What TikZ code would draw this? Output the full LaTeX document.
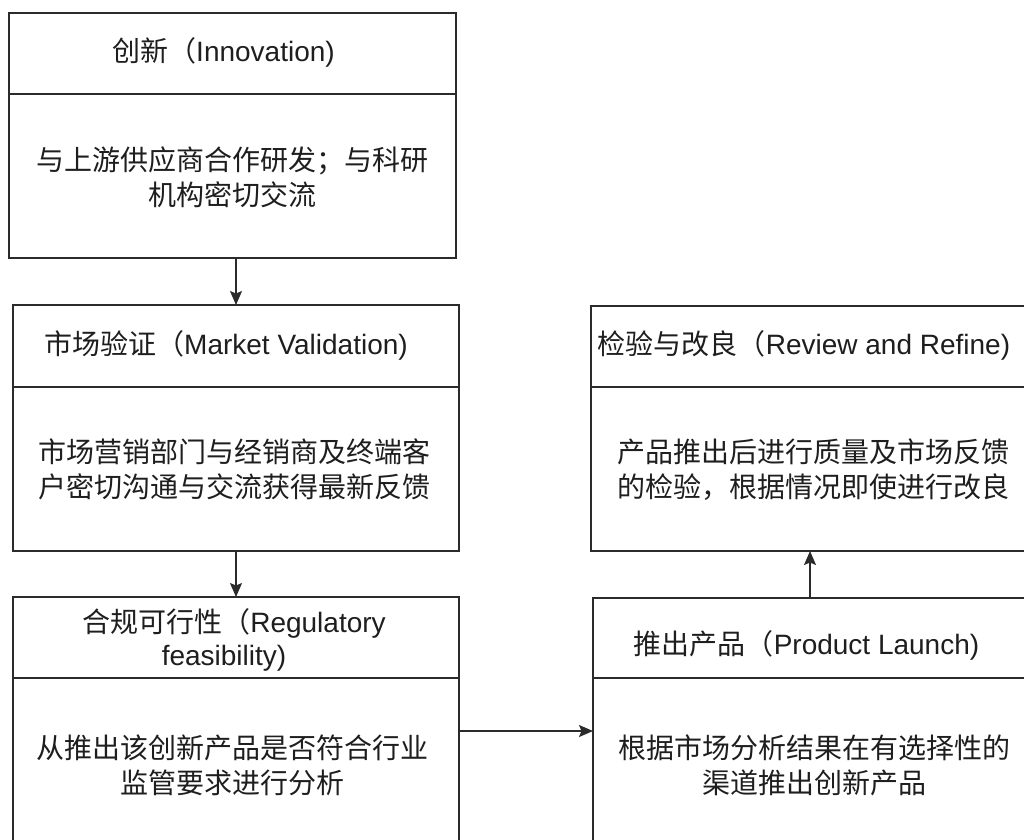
\documentclass[tikz,border=0pt]{standalone}
\usepackage{fontspec}
\setmainfont{Liberation Sans}
\newfontfamily\cjkf{Noto Sans CJK SC}
\usetikzlibrary{arrows.meta}
\definecolor{ln}{HTML}{2B2B2B}
\definecolor{tx}{HTML}{1E1E1E}
\begin{document}
\begin{tikzpicture}[x=1pt,y=-1pt,
  box/.style={draw=ln,line width=1.3pt,rectangle,inner sep=0,outer sep=0,anchor=north west,minimum width=446pt},
  divider/.style={draw=ln,line width=1.3pt},
  ttl/.style={inner sep=0,text=tx,align=center,font=\fontsize{28}{33}\selectfont},
  bdy/.style={inner sep=0,text=tx,align=center,font=\cjkf\fontsize{28}{35}\selectfont},
  arr/.style={draw=ln,line width=1.3pt,-{Stealth[length=14pt,width=12pt,inset=2.5pt]}}
]
\useasboundingbox (0,0) rectangle (1024,839);
\fill[white] (0,0) rectangle (1024,839);
\begin{scope}
\clip (0,0) rectangle (1024,839);
% boxes
\node[box,minimum width=447pt,minimum height=245pt] (A) at (9,13) {};
\node[box,minimum height=246pt] (B) at (13,305) {};
\node[box,minimum height=268pt] (C) at (13,597) {};
\node[box,minimum height=245pt] (D) at (591,306) {};
\node[box,minimum height=266pt] (E) at (593,598) {};
% dividers
\draw[divider] ([yshift=-81pt]A.north west) -- ([yshift=-81pt]A.north east);
\draw[divider] ([yshift=-82pt]B.north west) -- ([yshift=-82pt]B.north east);
\draw[divider] ([yshift=-81pt]C.north west) -- ([yshift=-81pt]C.north east);
\draw[divider] ([yshift=-81pt]D.north west) -- ([yshift=-81pt]D.north east);
\draw[divider] ([yshift=-80pt]E.north west) -- ([yshift=-80pt]E.north east);
% titles
\node[ttl] (tA) at (223.5,52) {{\cjkf 创新（}Innovation)};
\node[ttl] (tB) at (226,345) {{\cjkf 市场验证（}Market Validation)};
\node[ttl] (tC) at (234,639.5) {{\cjkf 合规可行性（}Regulatory\\feasibility)\hspace*{20pt}};
\node[ttl] (tD) at (804,345) {{\cjkf 检验与改良（}Review and Refine)};
\node[ttl] (tE) at (806.5,645) {{\cjkf 推出产品（}Product Launch)};
% bodies
\node[bdy] (bA) at (232,177) {与上游供应商合作研发；与科研\\机构密切交流};
\node[bdy] (bB) at (234.5,469) {市场营销部门与经销商及终端客\\户密切沟通与交流获得最新反馈};
\node[bdy] (bC) at (232,765) {从推出该创新产品是否符合行业\\监管要求进行分析};
\node[bdy] (bD) at (813,469.5) {产品推出后进行质量及市场反馈\\的检验，根据情况即使进行改良};
\node[bdy] (bE) at (814,765) {根据市场分析结果在有选择性的\\渠道推出创新产品};
% connectors
\coordinate (ax) at (236,0);
\coordinate (ux) at (810,0);
\coordinate (hy) at (0,731);
\draw[arr] (A.south -| ax) -- (B.north -| ax);
\draw[arr] (B.south -| ax) -- (C.north -| ax);
\draw[arr] (C.east |- hy) -- (E.west |- hy);
\draw[arr] (E.north -| ux) -- (D.south -| ux);
\end{scope}
\end{tikzpicture}
\end{document}
